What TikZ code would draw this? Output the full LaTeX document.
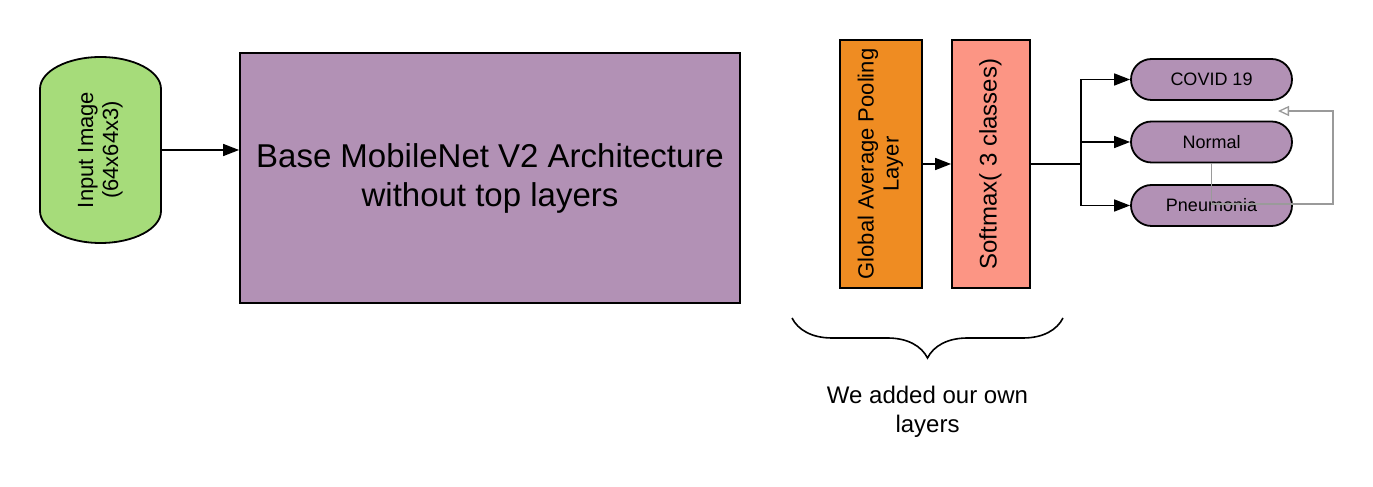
\documentclass[tikz,border=0pt]{standalone}
\usepackage{fontspec}
\setmainfont{Liberation Sans}
\usepackage{graphicx}
\usetikzlibrary{arrows.meta,decorations.pathreplacing,shapes.misc}
\definecolor{imggreen}{HTML}{A6DC7A}
\definecolor{basepurple}{HTML}{B291B5}
\definecolor{poolorange}{HTML}{EF8C22}
\definecolor{softsalmon}{HTML}{FC9584}
\definecolor{linkgray}{HTML}{9A9A9A}
\newcommand{\vtext}[1]{\rotatebox{90}{\begin{tabular}{@{}c@{}}#1\end{tabular}}}
\begin{document}
\begin{tikzpicture}[x=1pt,y=1pt,
	layer/.style={draw,line width=1.8pt,inner sep=0pt},
	classnode/.style={rounded rectangle,draw,line width=1.8pt,fill=basepurple,minimum width=161pt,minimum height=41pt,inner sep=0pt,font=\fontsize{18}{21}\selectfont},
	arr/.style={line width=1.6pt,-{Triangle[length=16pt,width=12pt]}}]
	\useasboundingbox (0,0) rectangle (1373,487);
	% input image
	\draw[line width=1.8pt,fill=imggreen] (40,398) arc[start angle=180,end angle=0,x radius=60.5,y radius=32] -- (161,276) arc[start angle=0,end angle=-180,x radius=60.5,y radius=32] -- cycle;
	\node[minimum width=121pt,minimum height=186pt,inner sep=0pt,font=\fontsize{22}{25}\selectfont] (img) at (100.5,337) {\vtext{Input Image\\(64x64x3)}};
	% base model
	\node[layer,fill=basepurple,minimum width=500pt,minimum height=250pt,align=center,font=\fontsize{33}{39}\selectfont] (base) at (490,309) {Base MobileNet V2 Architecture\\without top layers};
	\draw[arr] (img.east) -- (img.east -| base.west);
	% own layers
	\node[layer,fill=poolorange,minimum width=82pt,minimum height=248pt,font=\fontsize{22}{25}\selectfont] (gap) at (881,323) {\vtext{Global Average Pooling\\Layer}};
	\node[layer,fill=softsalmon,minimum width=78pt,minimum height=248pt,font=\fontsize{24}{28}\selectfont] (soft) at (991,323) {\vtext{Softmax( 3 classes)}};
	\draw[arr] (gap.east) -- (soft.west);
	% classes
	\node[classnode] (covid) at (1211.5,407.5) {COVID 19};
	\node[classnode] (normal) at (1211.5,345) {Normal};
	\node[classnode] (pneu) at (1211.5,281.5) {Pneumonia};
	\coordinate (split) at (1081,323);
	\draw[line width=1.6pt] (soft.east) -- (split);
	\foreach \c in {covid,normal,pneu}
		\draw[arr] (split) |- (\c.west);
	\coordinate (fb) at (1278,376);
	\draw[linkgray,line width=1.3pt,-{Triangle[open,length=11pt,width=10pt]}] (normal.south) |- (1333,283) |- (fb);
	% brace
	\draw[line width=1.6pt,decorate,decoration={brace,mirror,amplitude=40pt,aspect=0.5}] (792,169) -- (1063,169);
	\node[align=center,font=\fontsize{24}{29}\selectfont] (note) at (927.5,75) {We added our own\\layers};
\end{tikzpicture}
\end{document}
